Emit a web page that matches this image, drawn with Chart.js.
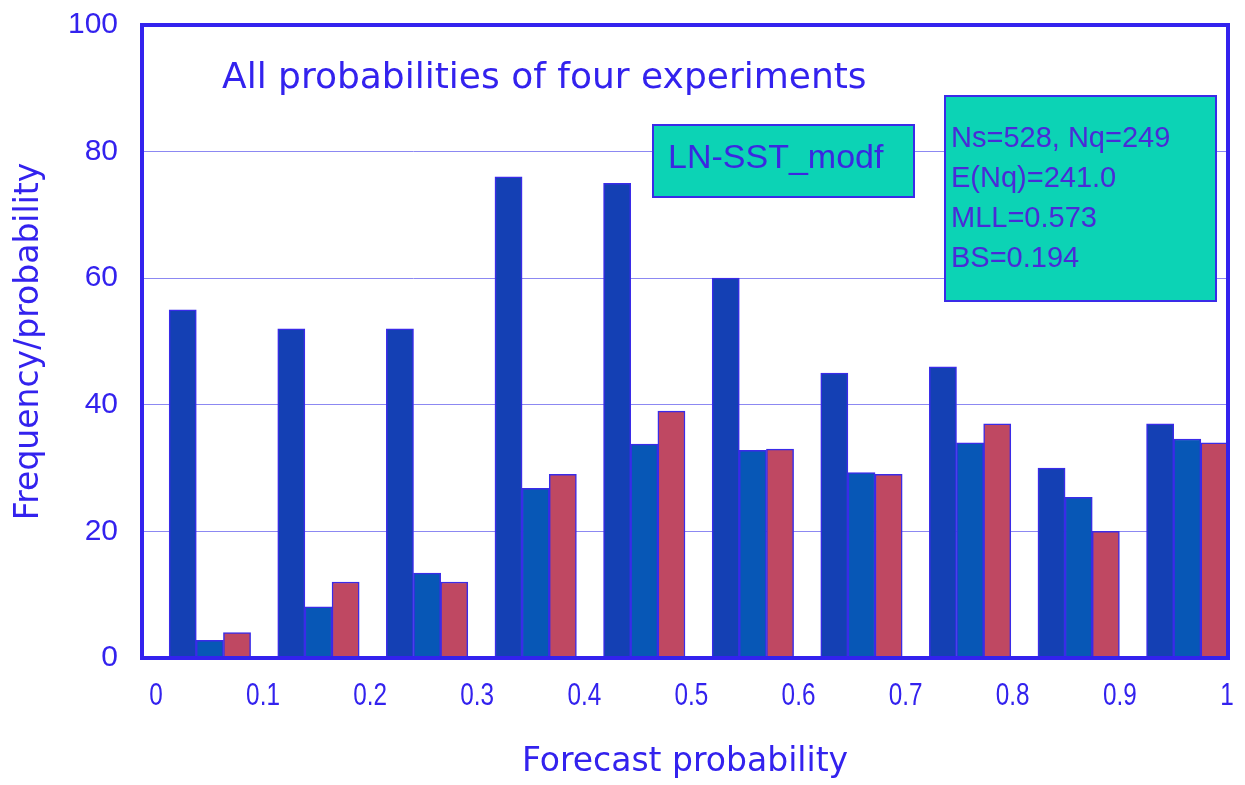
<!DOCTYPE html>
<html>
<head>
<meta charset="utf-8">
<script src="https://cdn.jsdelivr.net/npm/chart.js@4/dist/chart.umd.min.js"></script>
<style>
  body { margin: 0; background: #fff; }
  #wrap { width: 1245px; height: 785px; }
</style>
</head>
<body>
<div id="wrap"><canvas id="c" width="1245" height="785"></canvas></div>
<script>
    // probability bins (10 classes of width 0.1)
    const bins = ["0-0.1", "0.1-0.2", "0.2-0.3", "0.3-0.4", "0.4-0.5", "0.5-0.6", "0.6-0.7", "0.7-0.8", "0.8-0.9", "0.9-1"];
    const probTicks = ["0", "0.1", "0.2", "0.3", "0.4", "0.5", "0.6", "0.7", "0.8", "0.9", "1"];
    const yTicks = [0, 20, 40, 60, 80, 100];

    const forecasts = [55, 52, 52, 76, 75, 60, 45, 46, 30, 37];
    const expected = [2.8, 8.1, 13.4, 26.8, 33.8, 32.8, 29.3, 34.0, 25.4, 34.6];
    const observed = [4, 12, 12, 29, 39, 33, 29, 37, 20, 34];
    // empty slot in front of each group (as in the original sheet)
    const blank = [null, null, null, null, null, null, null, null, null, null];

    const title = "All probabilities of four experiments";
    const caseName = "LN-SST_modf";
    const stats = ["Ns=528, Nq=249", "E(Nq)=241.0", "MLL=0.573", "BS=0.194"];

    const blue = "#3322ee";
    const edge = "#3a2be8";
    const teal = "#0cd3b5";

    const frame = {
      id: "frame",
      afterDraw(chart) {
        const ctx = chart.ctx;
        const a = chart.chartArea;
        ctx.save();
        ctx.strokeStyle = blue;
        ctx.lineWidth = 4;
        ctx.strokeRect(a.left, a.top, a.right - a.left, a.bottom - a.top);

        // x tick labels, narrow like the original font
        const sx = chart.scales.x2;
        ctx.fillStyle = blue;
        ctx.font = "32px 'Liberation Sans'";
        ctx.textAlign = "center";
        ctx.textBaseline = "alphabetic";
        probTicks.forEach(t => {
          ctx.save();
          ctx.translate(sx.getPixelForValue(Number(t)), a.bottom + 47);
          ctx.scale(0.76, 1);
          ctx.fillText(t, 0, 0);
          ctx.restore();
        });
        ctx.textAlign = "left";

        // title inside the plot
        ctx.font = "36px 'DejaVu Sans'";
        ctx.fillText(title, 222, 88);

        // case box
        ctx.fillStyle = teal;
        ctx.fillRect(653, 125, 261, 72);
        ctx.strokeStyle = edge;
        ctx.lineWidth = 2;
        ctx.strokeRect(653, 125, 261, 72);
        ctx.fillStyle = "#3b28e0";
        ctx.font = "34px 'Liberation Sans'";
        ctx.fillText(caseName, 668, 168);

        // stats box
        ctx.fillStyle = teal;
        ctx.fillRect(945, 96, 271, 205);
        ctx.strokeRect(945, 96, 271, 205);
        ctx.fillStyle = "#4a2bd6";
        ctx.font = "29px 'Liberation Sans'";
        stats.forEach((s, i) => ctx.fillText(s, 951, 147 + i * 40));
        ctx.restore();
      }
    };

    new Chart(document.getElementById("c"), {
      type: "bar",
      data: {
        labels: bins,
        datasets: [
          { label: "", data: blank },
          { label: "Forecasts", data: forecasts, backgroundColor: "#1440b4" },
          { label: "Expected", data: expected, backgroundColor: "#0757b6" },
          { label: "Observed", data: observed, backgroundColor: "#bf4862" }
        ]
      },
      options: {
        responsive: false,
        animation: false,
        layout: { padding: { top: 25, right: 17, left: 0, bottom: 0 } },
        datasets: {
          bar: {
            categoryPercentage: 1,
            barPercentage: 1,
            borderColor: edge,
            borderWidth: 1.5
          }
        },
        plugins: { legend: { display: false }, tooltip: { enabled: false } },
        scales: {
          x: { type: "category", display: false },
          x2: {
            type: "linear",
            position: "bottom",
            offset: false,
            // label axis: Excel sets its labels a little inside the frame
            min: -0.013,
            max: 1.001,
            afterBuildTicks: s => { s.ticks = probTicks.map(v => ({ value: Number(v) })); },
            afterFit: s => { s.height = 127; s.paddingLeft = 0; s.paddingRight = 0; },
            grid: { display: false, offset: false },
            border: { display: false },
            ticks: { display: false },
            title: {
              display: true,
              text: "Forecast probability",
              color: blue,
              padding: { top: 0, bottom: 3 },
              font: { family: "'DejaVu Sans'", size: 33 }
            }
          },
          y: {
            min: 0,
            max: 100,
            afterBuildTicks: s => { s.ticks = yTicks.map(v => ({ value: v })); },
            afterFit: s => { s.width = 142; s.paddingTop = 0; s.paddingBottom = 0; },
            grid: { color: "#8c88f2", lineWidth: 1, drawTicks: false },
            border: { display: false },
            ticks: {
              color: blue,
              padding: 24,
              font: { family: "'Liberation Sans'", size: 30 }
            },
            title: {
              display: true,
              text: "Frequency/probability",
              color: blue,
              padding: { top: 10, bottom: 0 },
              font: { family: "'DejaVu Sans'", size: 33 }
            }
          }
        }
      },
      plugins: [frame]
    });
</script>
</body>
</html>
